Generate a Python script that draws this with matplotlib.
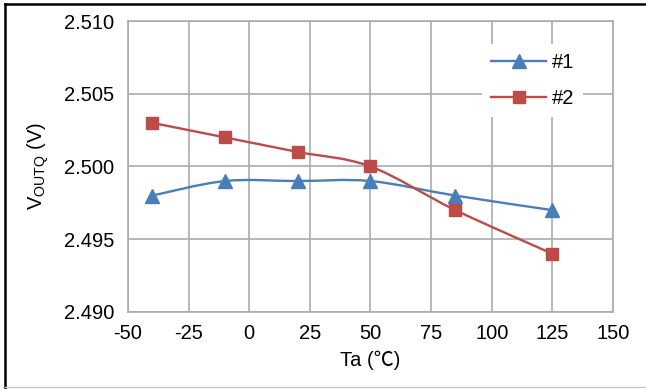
"""
Quiescent output voltage vs ambient temperature
"""
import numpy as np
import matplotlib
matplotlib.use('Agg')
import matplotlib.pyplot as plt
from matplotlib.path import Path
from matplotlib.patches import PathPatch
from matplotlib.lines import Line2D

# data
temps = [-40, -10, 20, 50, 85, 125]
vout_1 = [2.498, 2.499, 2.499, 2.499, 2.498, 2.497]
vout_2 = [2.503, 2.502, 2.501, 2.500, 2.497, 2.494]
series_labels = ['#1', '#2']
x_ticks = [-50, -25, 0, 25, 50, 75, 100, 125, 150]
y_ticks = [2.490, 2.495, 2.500, 2.505, 2.510]

BLUE = '#4a7ebb'
RED = '#be4b48'
GRID = '#ababab'
FS = 14.5

plt.rcParams['font.family'] = ['Liberation Sans', 'Noto Sans CJK JP', 'DejaVu Sans']
plt.rcParams['mathtext.fontset'] = 'custom'
plt.rcParams['mathtext.rm'] = 'Liberation Sans'
plt.rcParams['axes.unicode_minus'] = False


def smooth_path(xs, ys):
    """Build a Catmull-Rom style bezier path through the points (like Excel's smoothed line)"""
    pts = np.column_stack([xs, ys]).astype(float)
    n = len(pts)
    verts = [pts[0]]
    codes = [Path.MOVETO]
    for i in range(n - 1):
        p0 = pts[i - 1] if i > 0 else pts[i]
        p1 = pts[i]
        p2 = pts[i + 1]
        p3 = pts[i + 2] if i + 2 < n else pts[i + 1]
        c1 = p1 + (p2 - p0) / 6.0
        c2 = p2 - (p3 - p1) / 6.0
        verts += [c1, c2, p2]
        codes += [Path.CURVE4] * 3
    return Path(verts, codes)


fig = plt.figure(figsize=(6.46, 3.89), dpi=100)
ax = fig.add_axes([0.198, 0.198, 0.751, 0.748])

for ys, color, marker, ms in [(vout_1, BLUE, '^', 9.5), (vout_2, RED, 's', 8.5)]:
    patch = PathPatch(smooth_path(temps, ys), facecolor='none', edgecolor=color,
                      linewidth=1.7, zorder=3)
    ax.add_patch(patch)
    ax.plot(temps, ys, linestyle='none', marker=marker, markersize=ms,
            color=color, zorder=4)

ax.set_xlim(-50, 150)
ax.set_ylim(2.490, 2.510)
ax.set_xticks(x_ticks)
ax.set_yticks(y_ticks)
ax.set_yticklabels([f'{v:.3f}' for v in y_ticks])
ax.tick_params(axis='both', length=0, labelsize=FS)
ax.tick_params(axis='y', pad=10)
ax.tick_params(axis='x', pad=9)
ax.grid(True, color=GRID, linewidth=1.2)
ax.set_axisbelow(True)
for sp in ax.spines.values():
    sp.set_color(GRID)
    sp.set_linewidth(1.2)

ax.set_xlabel('Ta (℃)', fontsize=FS, labelpad=5)
ax.set_ylabel(r'V$_{\mathrm{OUTQ}}$ (V)', fontsize=FS, labelpad=9)

handles = [Line2D([], [], color=BLUE, marker='^', markersize=9.5, linewidth=1.7),
           Line2D([], [], color=RED, marker='s', markersize=8.5, linewidth=1.7)]
leg = ax.legend(handles, series_labels, loc='upper left', bbox_to_anchor=(0.71, 0.955),
                fontsize=FS, handlelength=2.7, handletextpad=0.3, labelspacing=0.85,
                frameon=True, fancybox=False, borderpad=0.45)
leg.get_frame().set_facecolor('white')
leg.get_frame().set_edgecolor('none')
leg.get_frame().set_alpha(1)

# outer chart border
fig.add_artist(Line2D([0.008, 0.008], [0.0, 0.99], color='black', linewidth=1.8,
                      transform=fig.transFigure))
fig.add_artist(Line2D([0.008, 1.0], [0.99, 0.99], color='black', linewidth=1.8,
                      transform=fig.transFigure))
fig.add_artist(Line2D([0.008, 1.0], [0.006, 0.006], color='#c8c8c8', linewidth=1.0,
                      transform=fig.transFigure))

fig.savefig('out.png', dpi=100)
plt.close(fig)
